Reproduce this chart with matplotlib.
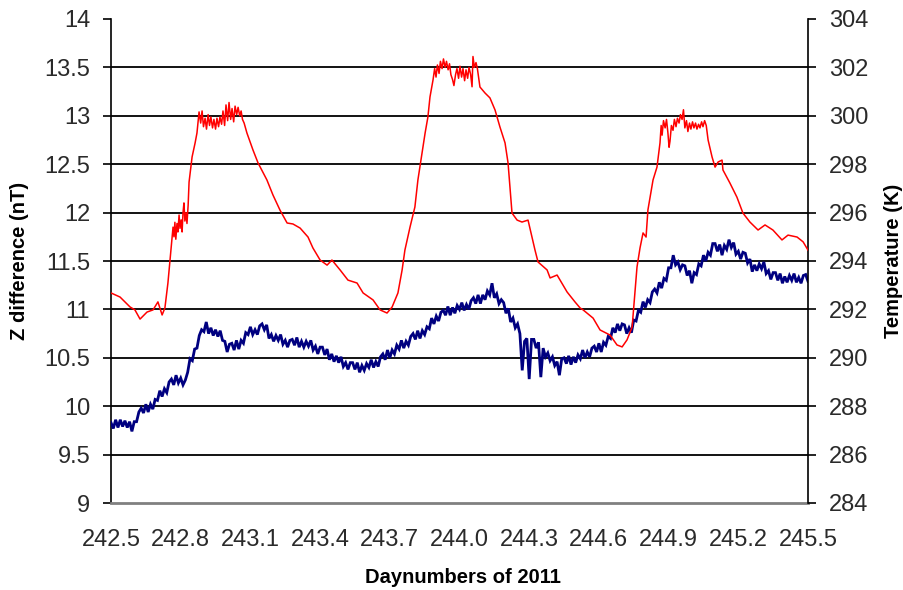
import matplotlib
matplotlib.use("Agg")
import matplotlib.pyplot as plt
import numpy as np
from matplotlib import font_manager as fm

# ---------------------------------------------------------------- data
# Z difference (nT), one sample every 0.01 day from day 242.50 to 245.50
z_start, z_end = 242.5, 245.5
z_diff = [
    9.83, 9.77, 9.86, 9.78, 9.86, 9.79, 9.85, 9.78, 9.84, 9.74,
    9.84, 9.84, 9.94, 9.98, 9.93, 10.02, 9.94, 10.02, 9.97, 10.07,
    10.06, 10.16, 10.10, 10.18, 10.14, 10.25, 10.28, 10.22, 10.32, 10.24,
    10.29, 10.22, 10.27, 10.35, 10.49, 10.47, 10.59, 10.60, 10.73, 10.79,
    10.77, 10.87, 10.75, 10.81, 10.73, 10.79, 10.72, 10.78, 10.68, 10.67,
    10.56, 10.64, 10.65, 10.58, 10.68, 10.59, 10.68, 10.65, 10.76, 10.74,
    10.82, 10.74, 10.79, 10.74, 10.83, 10.85, 10.79, 10.84, 10.70, 10.74,
    10.67, 10.73, 10.68, 10.74, 10.64, 10.68, 10.61, 10.68, 10.69, 10.63,
    10.71, 10.61, 10.67, 10.61, 10.67, 10.62, 10.68, 10.58, 10.62, 10.54,
    10.61, 10.61, 10.53, 10.59, 10.48, 10.54, 10.46, 10.52, 10.45, 10.51,
    10.41, 10.45, 10.38, 10.45, 10.45, 10.38, 10.45, 10.35, 10.42, 10.37,
    10.44, 10.40, 10.48, 10.40, 10.46, 10.41, 10.51, 10.54, 10.48, 10.58,
    10.50, 10.58, 10.54, 10.63, 10.59, 10.68, 10.60, 10.67, 10.63, 10.72,
    10.75, 10.69, 10.78, 10.70, 10.78, 10.74, 10.82, 10.80, 10.91, 10.85,
    10.93, 10.88, 10.97, 10.99, 10.94, 11.03, 10.94, 11.02, 10.96, 11.04,
    11.00, 11.07, 10.99, 11.05, 11.00, 11.09, 11.12, 11.06, 11.15, 11.06,
    11.15, 11.10, 11.19, 11.15, 11.27, 11.12, 11.16, 11.06, 11.10, 11.07,
    10.96, 11.01, 10.87, 10.91, 10.81, 10.85, 10.75, 10.37, 10.67, 10.70,
    10.28, 10.69, 10.69, 10.60, 10.66, 10.30, 10.60, 10.51, 10.55, 10.47,
    10.51, 10.42, 10.46, 10.32, 10.49, 10.50, 10.44, 10.52, 10.43, 10.51,
    10.45, 10.53, 10.49, 10.58, 10.50, 10.56, 10.51, 10.60, 10.62, 10.56,
    10.65, 10.56, 10.66, 10.63, 10.72, 10.70, 10.81, 10.76, 10.85, 10.78,
    10.85, 10.84, 10.75, 10.81, 10.76, 10.89, 10.88, 10.99, 10.97, 11.08,
    11.02, 11.10, 11.07, 11.18, 11.21, 11.17, 11.28, 11.22, 11.32, 11.30,
    11.43, 11.43, 11.56, 11.46, 11.49, 11.41, 11.46, 11.45, 11.35, 11.40,
    11.27, 11.38, 11.36, 11.47, 11.45, 11.56, 11.50, 11.59, 11.56, 11.68,
    11.68, 11.60, 11.67, 11.56, 11.66, 11.62, 11.72, 11.64, 11.69, 11.57,
    11.60, 11.52, 11.59, 11.58, 11.48, 11.52, 11.39, 11.46, 11.40, 11.47,
    11.42, 11.49, 11.37, 11.40, 11.31, 11.38, 11.38, 11.30, 11.37, 11.27,
    11.34, 11.28, 11.35, 11.30, 11.37, 11.28, 11.33, 11.27, 11.35, 11.36,
    11.29,
]

# Temperature (K) against day number
temp_day = [
    242.500, 242.539, 242.582, 242.603, 242.625, 242.655, 242.681, 242.702,
    242.720, 242.732, 242.745, 242.758,
    242.767, 242.771, 242.775, 242.779, 242.784, 242.788, 242.793, 242.797,
    242.802, 242.806, 242.810, 242.814, 242.818, 242.823, 242.827, 242.832,
    242.836, 242.849, 242.862, 242.870,
    242.879, 242.886, 242.892, 242.898, 242.905, 242.911, 242.918, 242.924,
    242.930, 242.937, 242.943, 242.950, 242.956, 242.963, 242.969, 242.976,
    242.982, 242.989, 242.995, 243.002, 243.008, 243.015, 243.021, 243.028,
    243.034, 243.041, 243.047, 243.054, 243.060, 243.066, 243.073, 243.085,
    243.111, 243.133, 243.171, 243.197, 243.227, 243.258, 243.283, 243.314,
    243.348, 243.369, 243.400, 243.430, 243.451, 243.486, 243.520, 243.559,
    243.585, 243.628, 243.658, 243.688, 243.710, 243.735, 243.753, 243.765,
    243.787, 243.808, 243.821, 243.834, 243.852, 243.864, 243.873,
    243.886, 243.893, 243.899, 243.905, 243.912, 243.918, 243.925, 243.931,
    243.938, 243.944, 243.951, 243.957, 243.963, 243.970, 243.976, 243.983,
    243.989, 243.996, 244.002, 244.009, 244.015, 244.022, 244.028, 244.035,
    244.041, 244.048, 244.054, 244.058, 244.064, 244.071, 244.077, 244.088,
    244.110, 244.131, 244.153, 244.174, 244.196, 244.209, 244.217, 244.226,
    244.248, 244.269, 244.295, 244.312, 244.325, 244.338, 244.377, 244.390,
    244.420, 244.433, 244.463, 244.497, 244.519, 244.532, 244.575, 244.605,
    244.648, 244.678, 244.700, 244.721, 244.743, 244.764, 244.777, 244.790,
    244.803, 244.811, 244.833, 244.850,
    244.863, 244.868, 244.872, 244.878, 244.885, 244.891, 244.897, 244.902,
    244.906, 244.912, 244.919, 244.925, 244.932, 244.938, 244.945, 244.951,
    244.958, 244.964, 244.970, 244.977, 244.983, 244.990, 244.996, 245.003,
    245.009, 245.016, 245.022, 245.029, 245.035, 245.042, 245.048, 245.055,
    245.062, 245.070,
    245.087, 245.100, 245.113, 245.130, 245.134, 245.164, 245.194, 245.220,
    245.250, 245.285, 245.315, 245.349, 245.388, 245.414, 245.453, 245.479,
    245.500,
]
temp_k = [
    292.68, 292.51, 292.10, 291.98, 291.60, 291.89, 291.98, 292.31,
    291.77, 292.06, 293.09, 294.45,
    295.40, 295.00, 295.60, 294.90, 295.55, 295.20, 295.90, 295.35,
    295.70, 295.20, 296.00, 296.40, 295.65, 296.00, 295.55, 296.30,
    297.26, 298.30, 298.88, 299.29,
    300.16, 299.70, 300.20, 299.55, 299.90, 299.45, 300.05, 299.60,
    299.95, 299.50, 299.85, 299.45, 299.90, 299.55, 299.95, 299.65,
    300.20, 299.60, 300.45, 299.80, 300.55, 299.85, 300.30, 299.75,
    300.40, 300.05, 300.35, 300.00, 300.20, 299.85, 299.70, 299.29,
    298.59, 298.05, 297.35, 296.73, 296.11, 295.57, 295.53, 295.36,
    294.99, 294.54, 294.04, 293.83, 294.04, 293.63, 293.21, 293.09,
    292.68, 292.39, 291.98, 291.85, 292.10, 292.68, 293.63, 294.45,
    295.40, 296.23, 297.35, 298.17, 299.29, 299.95, 300.78,
    301.48, 301.95, 301.60, 302.10, 301.75, 302.25, 301.95, 302.35,
    302.00, 302.25, 301.90, 302.15, 301.70, 301.50, 301.25, 301.70,
    301.95, 301.55, 302.05, 301.60, 301.95, 301.45, 301.90, 301.55,
    302.00, 301.70, 301.20, 302.45, 302.00, 302.20, 301.95, 301.19,
    300.94, 300.74, 300.24, 299.54, 298.88, 298.05, 297.06, 295.98,
    295.69, 295.61, 295.69, 294.99, 294.45, 293.96, 293.63, 293.30,
    293.42, 293.21, 292.72, 292.31, 292.06, 291.98, 291.64, 291.15,
    290.94, 290.53, 290.45, 290.74, 291.27, 293.75, 294.54, 295.16,
    294.99, 296.11, 297.35, 297.88,
    298.88, 299.60, 299.20, 299.80, 299.50, 299.85, 299.30, 298.70,
    298.95, 299.60, 299.40, 299.85, 299.55, 299.90, 299.70, 300.05,
    299.85, 300.25, 299.50, 299.80, 299.35, 299.70, 299.45, 299.75,
    299.50, 299.70, 299.45, 299.65, 299.50, 299.75, 299.55, 299.80,
    299.60, 299.00,
    298.30, 297.88, 298.09, 298.17, 297.76, 297.22, 296.64, 295.98,
    295.61, 295.28, 295.49, 295.28, 294.87, 295.07, 294.99, 294.79,
    294.45,
]

day_ticks = [242.5, 242.8, 243.1, 243.4, 243.7, 244.0, 244.3, 244.6,
             244.9, 245.2, 245.5]
day_labels = ["242.5", "242.8", "243.1", "243.4", "243.7", "244.0",
              "244.3", "244.6", "244.9", "245.2", "245.5"]
z_ticks = [9, 9.5, 10, 10.5, 11, 11.5, 12, 12.5, 13, 13.5, 14]
z_labels = ["9", "9.5", "10", "10.5", "11", "11.5", "12", "12.5", "13",
            "13.5", "14"]
t_ticks = [284, 286, 288, 290, 292, 294, 296, 298, 300, 302, 304]

# ---------------------------------------------------------------- fonts
installed = {f.name for f in fm.fontManager.ttflist}
SANS = "Liberation Sans" if "Liberation Sans" in installed else "DejaVu Sans"

# ---------------------------------------------------------------- figure
W, H = 904, 590
fig = plt.figure(figsize=(W / 100, H / 100), dpi=100)
x0, x1, y_top, y_bot = 111, 808, 19, 503
ax = fig.add_axes([x0 / W, 1 - y_bot / H, (x1 - x0) / W, (y_bot - y_top) / H])
ax2 = ax.twinx()

z_days = np.linspace(z_start, z_end, len(z_diff))
ax.plot(z_days, z_diff, color="#000080", lw=2.0, zorder=3,
        solid_joinstyle="miter")
ax2.plot(temp_day, temp_k, color="#FF0000", lw=1.1, zorder=3)

ax.set_xlim(242.5, 245.5)
ax.set_ylim(9, 14)
ax2.set_ylim(284, 304)

ax.set_xticks(day_ticks)
ax.set_xticklabels(day_labels, fontfamily=SANS, fontsize=17, color="#2a2a2a")
ax.set_yticks(z_ticks)
ax.set_yticklabels(z_labels, fontfamily=SANS, fontsize=17, color="#2a2a2a")
ax2.set_yticks(t_ticks)
ax2.set_yticklabels([str(t) for t in t_ticks], fontfamily=SANS, fontsize=17,
                    color="#2a2a2a")

ax.tick_params(axis="x", length=0, pad=19)
ax.tick_params(axis="y", direction="out", length=6, width=1.2, pad=9)
ax2.tick_params(axis="y", direction="out", length=6, width=1.2, pad=9)

# horizontal grid lines between the end values
ax.yaxis.grid(True, color="black", lw=1.3)
ax.set_axisbelow(True)
gl = ax.get_ygridlines()
gl[0].set_visible(False)
gl[-1].set_visible(False)

for a in (ax, ax2):
    a.spines["top"].set_visible(False)
ax2.spines["left"].set_visible(False)
ax2.spines["bottom"].set_visible(False)
ax.spines["right"].set_visible(False)
ax.spines["left"].set_linewidth(1.2)
ax2.spines["right"].set_linewidth(1.2)
ax.spines["bottom"].set_color("#808080")
ax.spines["bottom"].set_linewidth(2.0)

ax.set_xlabel("Daynumbers of 2011", fontfamily=SANS, fontweight="bold",
              fontsize=14.5)
ax.xaxis.set_label_coords(0.505, (y_bot - 568) / (y_bot - y_top))
ax.set_ylabel("Z difference (nT)", fontfamily=SANS, fontweight="bold",
              fontsize=14.5)
ax.yaxis.set_label_coords((29 - x0) / (x1 - x0), 0.5)
ax2.set_ylabel("Temperature (K)", fontfamily=SANS, fontweight="bold",
               fontsize=14.5)
ax2.yaxis.set_label_coords((884 - x0) / (x1 - x0), 0.5)

fig.savefig("out.png", dpi=100)
